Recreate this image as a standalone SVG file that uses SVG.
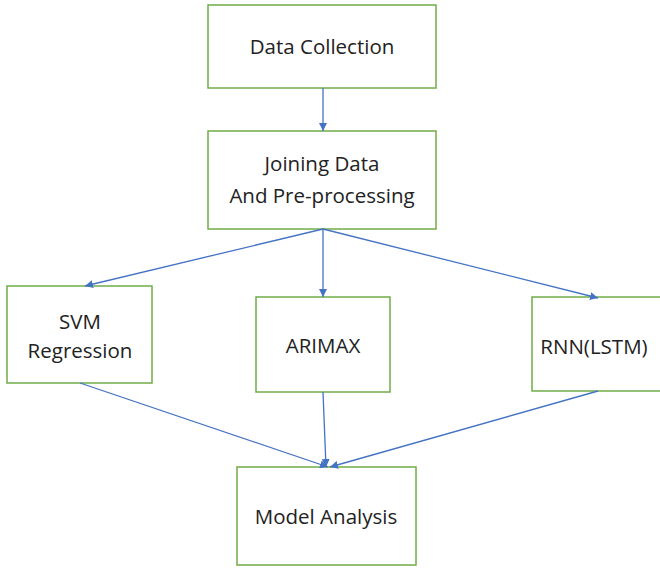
<svg xmlns="http://www.w3.org/2000/svg" width="660" height="568" viewBox="0 0 660 568">
<style>
.box{fill:#fff;stroke:#70AD47;stroke-width:1.5}
.lbl{font-family:"Open Sans","Liberation Sans",sans-serif;font-size:20.5px;fill:#222;text-anchor:middle;dominant-baseline:central}
.c{stroke:#4472C4;stroke-width:1.3;fill:none;marker-end:url(#ah)}
</style>
<defs>
<marker id="ah" viewBox="0 0 10 10" refX="10" refY="5" markerWidth="8" markerHeight="8" markerUnits="userSpaceOnUse" orient="auto">
<path d="M0,0 L10,5 L0,10 z" fill="#4472C4"/>
</marker>
</defs>
<rect width="660" height="568" fill="#fff"/>
<g id="n1"><rect class="box" x="208" y="5" width="228" height="83"/><text class="lbl" x="322" y="46">Data Collection</text></g>
<g id="n2"><rect class="box" x="208" y="131" width="228" height="98"/><text class="lbl" x="322" y="163">Joining Data</text><text class="lbl" x="322" y="195">And Pre-processing</text></g>
<g id="n3"><rect class="box" x="7" y="286" width="145" height="97"/><text class="lbl" x="80" y="321">SVM</text><text class="lbl" x="80" y="350">Regression</text></g>
<g id="n4"><rect class="box" x="256" y="297" width="134" height="95"/><text class="lbl" x="323" y="345">ARIMAX</text></g>
<g id="n5"><rect class="box" x="532" y="297" width="130" height="94"/><text class="lbl" x="594" y="346">RNN(LSTM)</text></g>
<g id="n6"><rect class="box" x="237" y="467" width="179" height="98"/><text class="lbl" x="326" y="516">Model Analysis</text></g>
<g id="connectors">
<line class="c" x1="323" y1="88" x2="323" y2="131"/>
<line class="c" x1="323" y1="229" x2="85" y2="286"/>
<line class="c" x1="323" y1="229" x2="323" y2="297"/>
<line class="c" x1="323" y1="229" x2="598" y2="298"/>
<line class="c" x1="80" y1="383" x2="328" y2="467"/>
<line class="c" x1="323" y1="392" x2="326" y2="467"/>
<line class="c" x1="598" y1="391" x2="330" y2="467"/>
</g>
</svg>
